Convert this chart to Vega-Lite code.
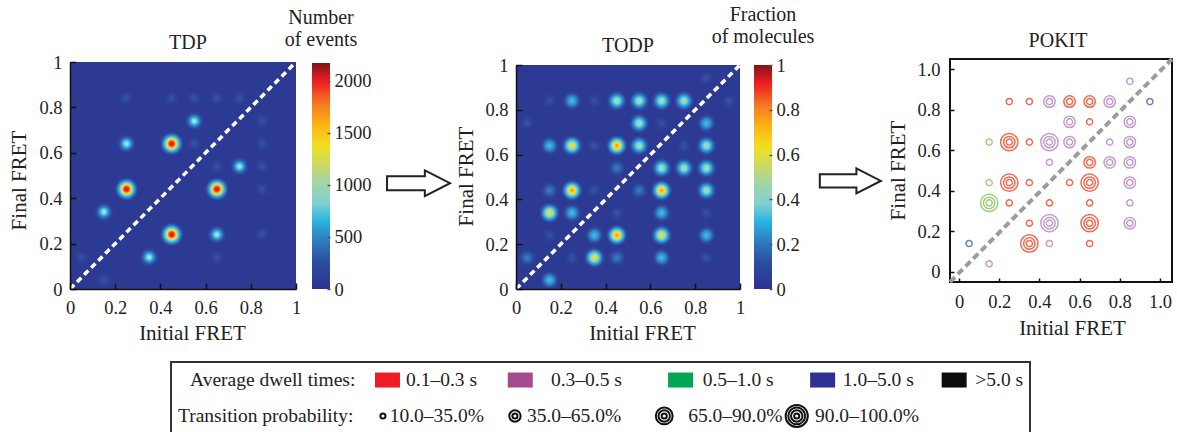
{"$schema":"https://vega.github.io/schema/vega-lite/v6.json","background":"white","padding":{"left":8,"top":5,"right":0,"bottom":0},"resolve":{"scale":{"color":"independent"}},"config":{"view":{"stroke":null},"font":"Liberation Serif","axis":{"grid":false,"labelFont":"Liberation Serif","titleFont":"Liberation Serif","labelFontSize":18.5,"titleFontSize":21,"titleFontWeight":"normal","labelColor":"#222","titleColor":"#222","domainColor":"#111","tickColor":"#111","domainWidth":1.5,"tickWidth":1.5,"labelOverlap":false,"labelFlush":false},"title":{"font":"Liberation Serif","fontSize":20,"fontWeight":"normal","color":"#222"}},"datasets":{"tdp":[{"x":0.25,"y":0.84,"v":0.06},{"x":0.45,"y":0.84,"v":0.08},{"x":0.55,"y":0.84,"v":0.09},{"x":0.65,"y":0.84,"v":0.1},{"x":0.75,"y":0.84,"v":0.1},{"x":0.85,"y":0.74,"v":0.08},{"x":0.55,"y":0.64,"v":0.08},{"x":0.85,"y":0.64,"v":0.09},{"x":0.65,"y":0.54,"v":0.08},{"x":0.85,"y":0.54,"v":0.08},{"x":0.85,"y":0.44,"v":0.07},{"x":0.85,"y":0.24,"v":0.05},{"x":0.05,"y":0.14,"v":0.05},{"x":0.15,"y":0.04,"v":0.06},{"x":0.65,"y":0.14,"v":0.05},{"x":0.55,"y":0.74,"v":0.4},{"x":0.25,"y":0.64,"v":0.4},{"x":0.75,"y":0.54,"v":0.4},{"x":0.15,"y":0.34,"v":0.42},{"x":0.35,"y":0.14,"v":0.42},{"x":0.65,"y":0.24,"v":0.4},{"x":0.45,"y":0.64,"v":1},{"x":0.25,"y":0.44,"v":1},{"x":0.65,"y":0.44,"v":1},{"x":0.45,"y":0.24,"v":1}],"todp":[{"x":0.85,"y":0.94,"v":0.1},{"x":0.15,"y":0.84,"v":0.1},{"x":0.25,"y":0.84,"v":0.3},{"x":0.35,"y":0.84,"v":0.12},{"x":0.45,"y":0.84,"v":0.4},{"x":0.55,"y":0.84,"v":0.4},{"x":0.65,"y":0.84,"v":0.45},{"x":0.75,"y":0.84,"v":0.4},{"x":0.95,"y":0.84,"v":0.08},{"x":0.05,"y":0.74,"v":0.07},{"x":0.55,"y":0.74,"v":0.5},{"x":0.65,"y":0.74,"v":0.1},{"x":0.85,"y":0.74,"v":0.33},{"x":0.15,"y":0.64,"v":0.3},{"x":0.25,"y":0.64,"v":0.65},{"x":0.35,"y":0.64,"v":0.12},{"x":0.45,"y":0.64,"v":0.75},{"x":0.55,"y":0.64,"v":0.45},{"x":0.75,"y":0.64,"v":0.12},{"x":0.85,"y":0.64,"v":0.45},{"x":0.45,"y":0.54,"v":0.15},{"x":0.65,"y":0.54,"v":0.4},{"x":0.75,"y":0.54,"v":0.47},{"x":0.85,"y":0.54,"v":0.4},{"x":0.15,"y":0.44,"v":0.2},{"x":0.25,"y":0.44,"v":0.72},{"x":0.35,"y":0.44,"v":0.1},{"x":0.55,"y":0.44,"v":0.15},{"x":0.65,"y":0.44,"v":0.72},{"x":0.85,"y":0.44,"v":0.42},{"x":0.15,"y":0.34,"v":0.62},{"x":0.25,"y":0.34,"v":0.32},{"x":0.45,"y":0.34,"v":0.12},{"x":0.65,"y":0.34,"v":0.3},{"x":0.85,"y":0.34,"v":0.1},{"x":0.15,"y":0.24,"v":0.07},{"x":0.35,"y":0.24,"v":0.28},{"x":0.45,"y":0.24,"v":0.78},{"x":0.65,"y":0.24,"v":0.62},{"x":0.85,"y":0.24,"v":0.28},{"x":0.05,"y":0.14,"v":0.18},{"x":0.25,"y":0.14,"v":0.07},{"x":0.35,"y":0.14,"v":0.6},{"x":0.45,"y":0.14,"v":0.22},{"x":0.65,"y":0.14,"v":0.3},{"x":0.85,"y":0.14,"v":0.07},{"x":0.15,"y":0.04,"v":0.3}],"pokit":[{"x":0.85,"y":0.94,"d":"p","c":1},{"x":0.25,"y":0.84,"d":"r","c":1},{"x":0.35,"y":0.84,"d":"r","c":1},{"x":0.45,"y":0.84,"d":"p","c":2},{"x":0.55,"y":0.84,"d":"r","c":2},{"x":0.65,"y":0.84,"d":"r","c":2},{"x":0.75,"y":0.84,"d":"p","c":2},{"x":0.95,"y":0.84,"d":"b","c":1},{"x":0.55,"y":0.74,"d":"p","c":2},{"x":0.65,"y":0.74,"d":"r","c":1},{"x":0.85,"y":0.74,"d":"p","c":2},{"x":0.15,"y":0.64,"d":"g","c":1},{"x":0.25,"y":0.64,"d":"r","c":3},{"x":0.35,"y":0.64,"d":"r","c":1},{"x":0.45,"y":0.64,"d":"p","c":3},{"x":0.55,"y":0.64,"d":"p","c":2},{"x":0.75,"y":0.64,"d":"p","c":1},{"x":0.85,"y":0.64,"d":"p","c":2},{"x":0.45,"y":0.54,"d":"p","c":1},{"x":0.65,"y":0.54,"d":"r","c":2},{"x":0.75,"y":0.54,"d":"p","c":2},{"x":0.85,"y":0.54,"d":"p","c":2},{"x":0.15,"y":0.44,"d":"g","c":1},{"x":0.25,"y":0.44,"d":"r","c":3},{"x":0.35,"y":0.44,"d":"r","c":1},{"x":0.55,"y":0.44,"d":"r","c":1},{"x":0.65,"y":0.44,"d":"r","c":3},{"x":0.85,"y":0.44,"d":"p","c":2},{"x":0.15,"y":0.34,"d":"g","c":3},{"x":0.25,"y":0.34,"d":"r","c":1},{"x":0.45,"y":0.34,"d":"r","c":1},{"x":0.65,"y":0.34,"d":"r","c":1},{"x":0.85,"y":0.34,"d":"p","c":1},{"x":0.35,"y":0.24,"d":"r","c":1},{"x":0.45,"y":0.24,"d":"p","c":3},{"x":0.65,"y":0.24,"d":"r","c":3},{"x":0.85,"y":0.24,"d":"p","c":2},{"x":0.05,"y":0.14,"d":"b","c":1},{"x":0.35,"y":0.14,"d":"r","c":3},{"x":0.45,"y":0.14,"d":"p","c":1},{"x":0.65,"y":0.14,"d":"r","c":1},{"x":0.15,"y":0.04,"d":"p","c":1}],"frame":[{"x":0,"y":0,"x2":1,"y2":1}],"diag":[{"x":0,"y":0},{"x":1,"y":1}]},"vconcat":[{"hconcat":[{"width":226,"height":230,"title":{"text":"TDP","offset":0,"dx":5},"data":{"name":"tdp"},"encoding":{"x":{"field":"x","type":"quantitative","scale":{"domain":[0,1],"range":[0,226],"nice":false},"axis":{"zindex":1,"values":[0,0.2,0.4,0.6,0.8,1],"format":".1~f","title":"Initial FRET","titleX":122,"titlePadding":6,"tickSize":-6,"labelPadding":15}},"y":{"field":"y","type":"quantitative","scale":{"domain":[0,1],"range":[230,3],"nice":false},"axis":{"zindex":1,"values":[0,0.2,0.4,0.6,0.8,1],"format":".1~f","title":"Final FRET","titleY":121,"titlePadding":9,"tickSize":-6,"labelPadding":14}}},"layer":[{"data":{"name":"frame"},"mark":{"type":"rect","fill":"#2c3a94"},"encoding":{"x2":{"field":"x2"},"y2":{"field":"y2"}}},{"transform":[{"filter":"datum.v<0.13"}],"mark":{"type":"circle","size":531,"opacity":1,"fill":{"gradient":"radial","x1":0.5,"y1":0.5,"r1":0,"x2":0.5,"y2":0.5,"r2":0.5,"stops":[{"offset":0,"color":"#3658a8"},{"offset":0.8,"color":"rgba(44,58,148,0)"},{"offset":1,"color":"rgba(44,58,148,0)"}]}}},{"transform":[{"filter":"datum.v>=0.36 && datum.v<0.55"}],"mark":{"type":"circle","size":531,"opacity":1,"fill":{"gradient":"radial","x1":0.5,"y1":0.5,"r1":0,"x2":0.5,"y2":0.5,"r2":0.5,"stops":[{"offset":0,"color":"#b4e4dc"},{"offset":0.16,"color":"#90dcdc"},{"offset":0.28,"color":"#35bde8"},{"offset":0.42,"color":"#2f86c8"},{"offset":0.58,"color":"#3055a8"},{"offset":0.9,"color":"rgba(44,58,148,0)"}]}}},{"transform":[{"filter":"datum.v>=0.9"}],"mark":{"type":"circle","size":620,"opacity":1,"fill":{"gradient":"radial","x1":0.5,"y1":0.5,"r1":0,"x2":0.5,"y2":0.5,"r2":0.5,"stops":[{"offset":0,"color":"#d8141c"},{"offset":0.14,"color":"#ed1c24"},{"offset":0.24,"color":"#f26522"},{"offset":0.35,"color":"#fde02a"},{"offset":0.47,"color":"#a8d5a0"},{"offset":0.58,"color":"#35bde8"},{"offset":0.7,"color":"#2f86c8"},{"offset":0.82,"color":"#3055a8"},{"offset":1,"color":"rgba(44,58,148,0)"}]}}},{"data":{"name":"diag"},"mark":{"type":"line","stroke":"white","strokeWidth":3.5,"strokeDash":[6,4]}}]},{"width":16,"height":1,"data":{"values":[{"a":1}]},"mark":{"type":"rect","opacity":0},"encoding":{}},{"width":18,"height":230,"title":{"text":["Number","of events"],"offset":9,"lineHeight":22},"data":{"values":[{"lo":0,"hi":2170}]},"mark":{"type":"rect","fill":{"gradient":"linear","x1":0,"y1":1,"x2":0,"y2":0,"stops":[{"offset":0,"color":"#2e3192"},{"offset":0.12,"color":"#2a4fa0"},{"offset":0.22,"color":"#2f7fc1"},{"offset":0.3,"color":"#27b5e0"},{"offset":0.38,"color":"#7fd0d0"},{"offset":0.48,"color":"#a6d5a0"},{"offset":0.63,"color":"#f0e020"},{"offset":0.72,"color":"#fdb813"},{"offset":0.82,"color":"#f47920"},{"offset":0.92,"color":"#ed1c24"},{"offset":1,"color":"#7f1416"}]}},"encoding":{"y":{"field":"lo","type":"quantitative","scale":{"domain":[0,2170],"range":[230,4],"nice":false},"axis":{"zindex":1,"orient":"right","values":[0,500,1000,1500,2000],"format":"d","title":null,"domain":false,"tickSize":-3,"tickColor":"#555","labelPadding":7}},"y2":{"field":"hi"}}},{"width":186,"height":230,"data":{"values":[{"x":0.476,"y":0.46}]},"mark":{"type":"point","shape":"M-1,-0.22H0.2V-0.41L1,0L0.2,0.41V0.22H-1Z","size":3969,"filled":true,"fill":"white","stroke":"#222","strokeWidth":2,"opacity":1},"encoding":{"x":{"field":"x","type":"quantitative","scale":{"domain":[0,1]},"axis":null},"y":{"field":"y","type":"quantitative","scale":{"domain":[0,1]},"axis":null}}},{"width":224,"height":230,"title":{"text":"TODP","offset":0},"data":{"name":"todp"},"encoding":{"x":{"field":"x","type":"quantitative","scale":{"domain":[0,1],"range":[0,224],"nice":false},"axis":{"zindex":1,"values":[0,0.2,0.4,0.6,0.8,1],"format":".1~f","title":"Initial FRET","titleX":126,"titlePadding":6,"tickSize":-6,"labelPadding":15}},"y":{"field":"y","type":"quantitative","scale":{"domain":[0,1],"range":[230,6],"nice":false},"axis":{"zindex":1,"values":[0,0.2,0.4,0.6,0.8,1],"format":".1~f","title":"Final FRET","titleY":117,"titlePadding":8,"tickSize":-6,"labelPadding":14}}},"layer":[{"data":{"name":"frame"},"mark":{"type":"rect","fill":"#2c3a94"},"encoding":{"x2":{"field":"x2"},"y2":{"field":"y2"}}},{"transform":[{"filter":"datum.v<0.13"}],"mark":{"type":"circle","size":531,"opacity":1,"fill":{"gradient":"radial","x1":0.5,"y1":0.5,"r1":0,"x2":0.5,"y2":0.5,"r2":0.5,"stops":[{"offset":0,"color":"#3658a8"},{"offset":0.8,"color":"rgba(44,58,148,0)"},{"offset":1,"color":"rgba(44,58,148,0)"}]}}},{"transform":[{"filter":"datum.v>=0.13 && datum.v<0.25"}],"mark":{"type":"circle","size":531,"opacity":1,"fill":{"gradient":"radial","x1":0.5,"y1":0.5,"r1":0,"x2":0.5,"y2":0.5,"r2":0.5,"stops":[{"offset":0,"color":"#2f86c8"},{"offset":0.42,"color":"#3055a8"},{"offset":0.85,"color":"rgba(44,58,148,0)"},{"offset":1,"color":"rgba(44,58,148,0)"}]}}},{"transform":[{"filter":"datum.v>=0.25 && datum.v<0.36"}],"mark":{"type":"circle","size":531,"opacity":1,"fill":{"gradient":"radial","x1":0.5,"y1":0.5,"r1":0,"x2":0.5,"y2":0.5,"r2":0.5,"stops":[{"offset":0,"color":"#45c4e6"},{"offset":0.39,"color":"#2f86c8"},{"offset":0.57,"color":"#3055a8"},{"offset":0.9,"color":"rgba(44,58,148,0)"},{"offset":1,"color":"rgba(44,58,148,0)"}]}}},{"transform":[{"filter":"datum.v>=0.36 && datum.v<0.55"}],"mark":{"type":"circle","size":531,"opacity":1,"fill":{"gradient":"radial","x1":0.5,"y1":0.5,"r1":0,"x2":0.5,"y2":0.5,"r2":0.5,"stops":[{"offset":0,"color":"#a6d6a8"},{"offset":0.2,"color":"#9fd8c8"},{"offset":0.36,"color":"#35bde8"},{"offset":0.52,"color":"#2f86c8"},{"offset":0.68,"color":"#3055a8"},{"offset":0.95,"color":"rgba(44,58,148,0)"}]}}},{"transform":[{"filter":"datum.v>=0.55 && datum.v<0.7"}],"mark":{"type":"circle","size":531,"opacity":1,"fill":{"gradient":"radial","x1":0.5,"y1":0.5,"r1":0,"x2":0.5,"y2":0.5,"r2":0.5,"stops":[{"offset":0,"color":"#f8e32a"},{"offset":0.316,"color":"#a8d5a0"},{"offset":0.469,"color":"#35bde8"},{"offset":0.609,"color":"#2f86c8"},{"offset":0.739,"color":"#3055a8"},{"offset":1,"color":"rgba(44,58,148,0)"}]}}},{"transform":[{"filter":"datum.v>=0.7"}],"mark":{"type":"circle","size":531,"opacity":1,"fill":{"gradient":"radial","x1":0.5,"y1":0.5,"r1":0,"x2":0.5,"y2":0.5,"r2":0.5,"stops":[{"offset":0,"color":"#f7801d"},{"offset":0.232,"color":"#fde02a"},{"offset":0.404,"color":"#a8d5a0"},{"offset":0.532,"color":"#35bde8"},{"offset":0.659,"color":"#2f86c8"},{"offset":0.78,"color":"#3055a8"},{"offset":1,"color":"rgba(44,58,148,0)"}]}}},{"data":{"name":"diag"},"mark":{"type":"line","stroke":"white","strokeWidth":3.5,"strokeDash":[6,4]}}]},{"width":14,"height":1,"data":{"values":[{"a":1}]},"mark":{"type":"rect","opacity":0},"encoding":{}},{"width":18,"height":230,"title":{"text":["Fraction","of molecules"],"offset":9,"lineHeight":22},"data":{"values":[{"lo":0,"hi":1}]},"mark":{"type":"rect","fill":{"gradient":"linear","x1":0,"y1":1,"x2":0,"y2":0,"stops":[{"offset":0,"color":"#2e3192"},{"offset":0.12,"color":"#2a4fa0"},{"offset":0.22,"color":"#2f7fc1"},{"offset":0.3,"color":"#27b5e0"},{"offset":0.38,"color":"#7fd0d0"},{"offset":0.48,"color":"#a6d5a0"},{"offset":0.63,"color":"#f0e020"},{"offset":0.72,"color":"#fdb813"},{"offset":0.82,"color":"#f47920"},{"offset":0.92,"color":"#ed1c24"},{"offset":1,"color":"#7f1416"}]}},"encoding":{"y":{"field":"lo","type":"quantitative","scale":{"domain":[0,1],"range":[230,6],"nice":false},"axis":{"zindex":1,"orient":"right","values":[0,0.2,0.4,0.6,0.8,1],"format":".1~f","title":null,"domain":false,"tickSize":-3,"tickColor":"#555","labelPadding":7}},"y2":{"field":"hi"}}},{"width":178,"height":230,"data":{"values":[{"x":0.44,"y":0.47}]},"mark":{"type":"point","shape":"M-1,-0.22H0.2V-0.41L1,0L0.2,0.41V0.22H-1Z","size":3721,"filled":true,"fill":"white","stroke":"#222","strokeWidth":2,"opacity":1},"encoding":{"x":{"field":"x","type":"quantitative","scale":{"domain":[0,1]},"axis":null},"y":{"field":"y","type":"quantitative","scale":{"domain":[0,1]},"axis":null}}},{"width":222,"height":223,"title":{"text":"POKIT","offset":0,"dx":-3},"data":{"name":"pokit"},"encoding":{"x":{"field":"x","type":"quantitative","scale":{"domain":[-0.045,1.06],"nice":false,"zero":false},"axis":{"zindex":1,"values":[0,0.2,0.4,0.6,0.8,1],"labelExpr":"datum.value==0?'0':format(datum.value,'.1f')","title":"Initial FRET","titleX":122,"titlePadding":7,"tickSize":-4,"labelPadding":14,"domain":false}},"y":{"field":"y","type":"quantitative","scale":{"domain":[-0.05,1.05],"nice":false,"zero":false},"axis":{"zindex":1,"values":[0,0.2,0.4,0.6,0.8,1],"labelExpr":"datum.value==0?'0':format(datum.value,'.1f')","title":"Final FRET","titleY":111,"titlePadding":8,"tickSize":-4,"labelPadding":14,"domain":false}}},"layer":[{"data":{"values":[{"x":-0.045,"y":-0.05,"x2":1.06,"y2":1.05}]},"mark":{"type":"rect","fill":"white","stroke":"#111","strokeWidth":2},"encoding":{"x2":{"field":"x2"},"y2":{"field":"y2"}}},{"data":{"values":[{"x":-0.045,"y":-0.05},{"x":1.06,"y":1.05}]},"mark":{"type":"line","stroke":"#9c9c9c","strokeWidth":4,"strokeDash":[7,4]}},{"mark":{"type":"point","shape":"circle","size":38,"filled":false,"opacity":1,"strokeWidth":1.5},"encoding":{"color":{"field":"d","type":"nominal","scale":{"domain":["r","p","g","b"],"range":["#f26a50","#c79ad0","#a3cf80","#6a7fc4"]},"legend":null}}},{"transform":[{"filter":"datum.c>=2"}],"mark":{"type":"point","shape":"circle","size":130,"filled":false,"opacity":1,"strokeWidth":1.5},"encoding":{"color":{"field":"d","type":"nominal","legend":null}}},{"transform":[{"filter":"datum.c>=3"}],"mark":{"type":"point","shape":"circle","size":300,"filled":false,"opacity":1,"strokeWidth":1.5},"encoding":{"color":{"field":"d","type":"nominal","legend":null}}}]}],"spacing":0,"bounds":"flush"},{"width":960,"height":71,"encoding":{"x":{"field":"x","type":"quantitative","scale":{"domain":[0,100],"nice":false,"zero":false},"axis":null},"y":{"field":"y","type":"quantitative","scale":{"domain":[0,1],"nice":false,"zero":false},"axis":null}},"layer":[{"data":{"values":[{"x":10.52,"x2":100,"y":0,"y2":1}]},"mark":{"type":"rect","fill":"white","stroke":"#333","strokeWidth":2},"encoding":{"x2":{"field":"x2"},"y2":{"field":"y2"}}},{"data":{"values":[{"x":12.5,"y":0.746,"t":"Average dwell times:"},{"x":11.25,"y":0.24,"t":"Transition probability:"},{"x":35,"y":0.746,"t":"0.1–0.3 s"},{"x":50.1,"y":0.746,"t":"0.3–0.5 s"},{"x":65.9,"y":0.746,"t":"0.5–1.0 s"},{"x":80.5,"y":0.746,"t":"1.0–5.0 s"},{"x":94.3,"y":0.746,"t":">5.0 s"},{"x":33.3,"y":0.24,"t":"10.0–35.0%"},{"x":47.6,"y":0.24,"t":"35.0–65.0%"},{"x":64.4,"y":0.24,"t":"65.0–90.0%"},{"x":77.6,"y":0.24,"t":"90.0–100.0%"}]},"mark":{"type":"text","align":"left","baseline":"middle","font":"Liberation Serif","fontSize":19.5,"color":"#222"},"encoding":{"text":{"field":"t"}}},{"data":{"values":[{"x":33.07,"y":0.746,"d":"0.1–0.3 s"},{"x":46.9,"y":0.746,"d":"0.3–0.5 s"},{"x":63.6,"y":0.746,"d":"0.5–1.0 s"},{"x":78.4,"y":0.746,"d":"1.0–5.0 s"},{"x":92.1,"y":0.746,"d":">5.0 s"}]},"mark":{"type":"rect","width":25,"height":15},"encoding":{"color":{"field":"d","type":"nominal","scale":{"domain":["0.1–0.3 s","0.3–0.5 s","0.5–1.0 s","1.0–5.0 s",">5.0 s"],"range":["#ed1c24","#a6498e","#00a651","#2e3192","#0d0d0d"]},"legend":null}}},{"data":{"values":[{"x":32.6,"y":0.24},{"x":46.35,"y":0.24},{"x":61.9,"y":0.24},{"x":75.7,"y":0.24}]},"mark":{"type":"point","shape":"circle","size":26,"filled":false,"opacity":1,"strokeWidth":2,"stroke":"#111"}},{"data":{"values":[{"x":46.35,"y":0.24},{"x":61.9,"y":0.24},{"x":75.7,"y":0.24}]},"mark":{"type":"point","shape":"circle","size":130,"filled":false,"opacity":1,"strokeWidth":2,"stroke":"#111"}},{"data":{"values":[{"x":61.9,"y":0.24},{"x":75.7,"y":0.24}]},"mark":{"type":"point","shape":"circle","size":283,"filled":false,"opacity":1,"strokeWidth":2,"stroke":"#111"}},{"data":{"values":[{"x":75.7,"y":0.24}]},"mark":{"type":"point","shape":"circle","size":490,"filled":false,"opacity":1,"strokeWidth":2,"stroke":"#111"}}]}],"spacing":17}
